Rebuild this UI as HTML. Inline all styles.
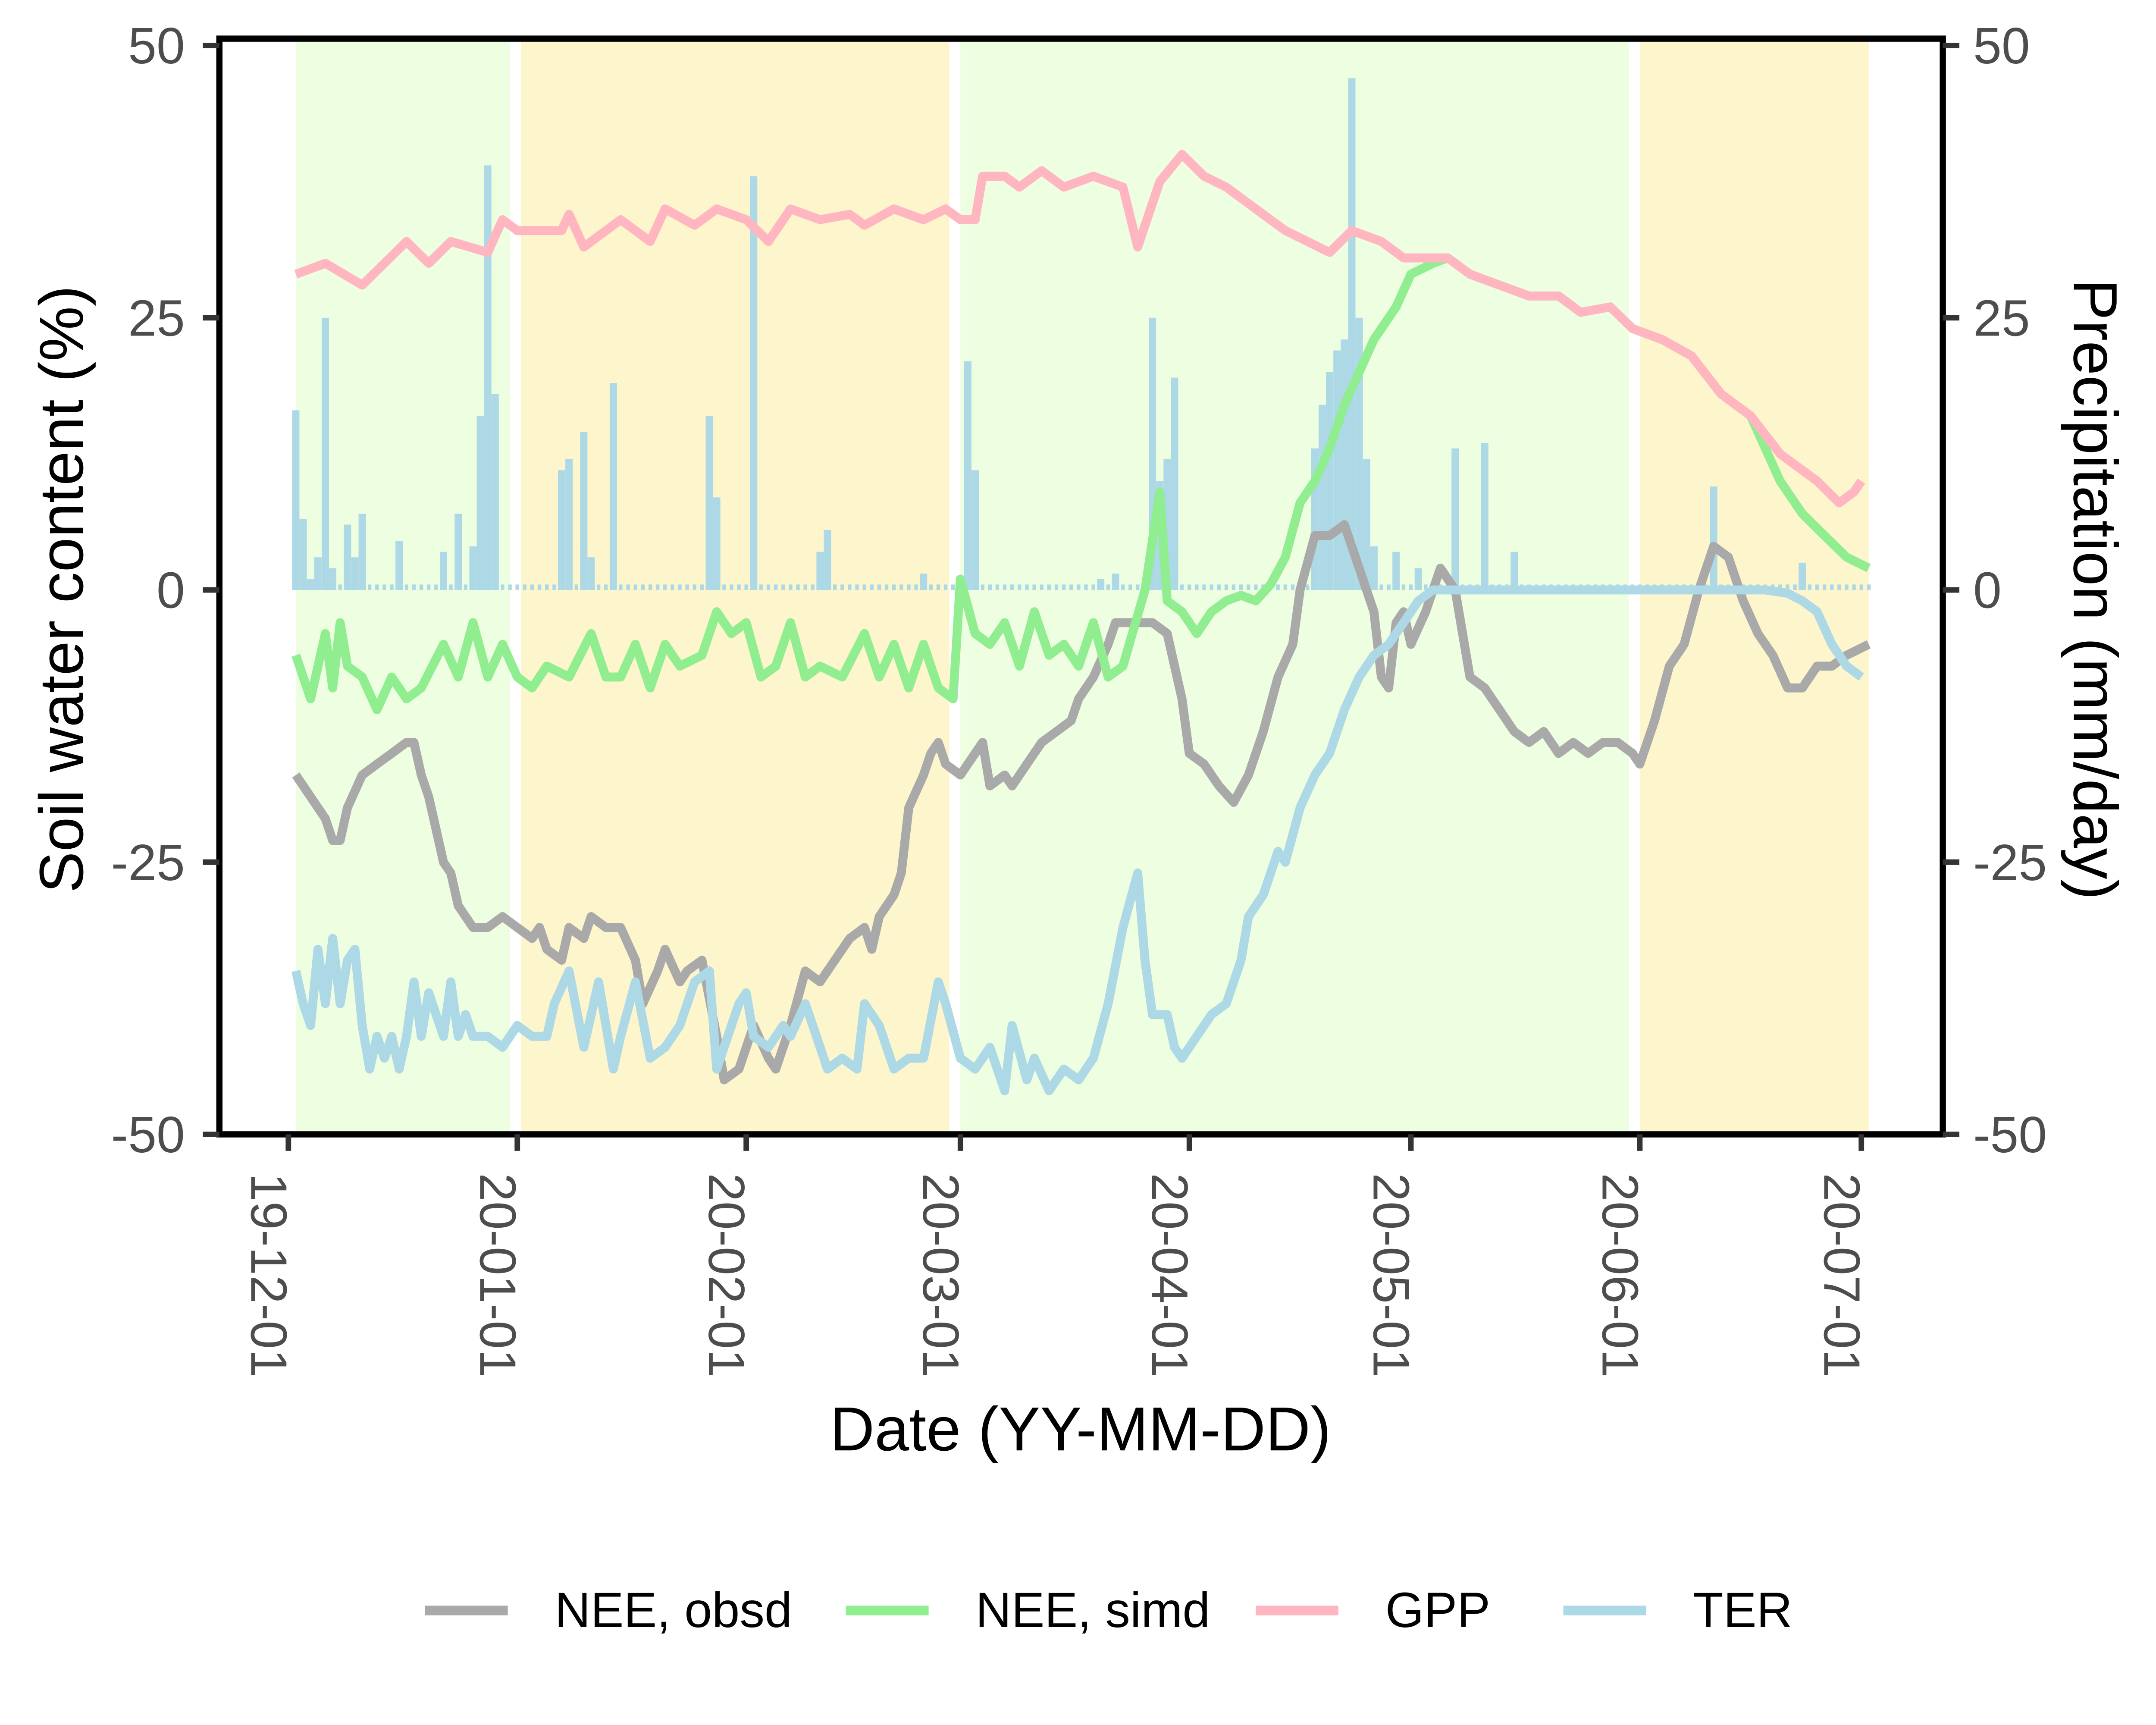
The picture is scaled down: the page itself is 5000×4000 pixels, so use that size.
<!DOCTYPE html>
<html><head><meta charset="utf-8"><style>
html,body{margin:0;padding:0;background:#fff}
svg{display:block}
text{font-family:"Liberation Sans",Arial,sans-serif}
</style></head><body>
<svg id="chart" xmlns="http://www.w3.org/2000/svg" width="5000" height="4000" viewBox="0 0 1562.5 1250">
<rect width="1562.5" height="1250" fill="#fff"/>
<g id="bg"></g>
<g id="bars"></g>
<g id="lines"></g>
<g id="axes"></g>
<text transform="translate(60,427) rotate(-90)" text-anchor="middle" font-size="45">Soil water content (%)</text>
<text transform="translate(1503,427) rotate(90)" text-anchor="middle" font-size="45">Precipitation (mm/day)</text>
<text x="783" y="1051" text-anchor="middle" font-size="45">Date (YY-MM-DD)</text>
<g id="legend"></g>
</svg>
<script>
const NS="http://www.w3.org/2000/svg";
// ---- data ----
const gppDays=[1,5,10,16,19,22,27,29,31,37,38,40,45,49,51,55,58,62,65,68,72,76,78,82,86,89,91,93,94,97,99,102,105,109,113,115,118,121,124,127,131,135,138,141,144,148,151,157,160,164,168,172,175,179,182,186,190,194,198,202,207,210,212,213];
const gppVals=[29,30,28,32,30,32,31,34,33,33,34.5,31.5,34,32,35,33.5,35,34,32,35,34,34.5,33.5,35,34,35,34,34,38,38,37,38.5,37,38,37,31.5,37.5,40,38,37,35,33,32,31,33,32,30.5,30.5,29,28,27,27,25.5,26,24,23,21.5,18,16,12.5,10,8,9,10];
const simDays=[1,3,5,6,7,8,10,12,14,16,18,21,23,25,27,29,31,33,35,38,41,43,45,47,49,51,53,56,58,60,62,64,66,68,70,72,75,78,80,82,84,86,88,90,91,93,95,97,99,101,103,105,107,109,111,113,116,118,119,121,123,125,127,129,131,133,135,137,139,141,143,145,147,150,152,155,157,160,164,168,172,175,179,182,186,190,194,198,202,205,208,211,214];
const simVals=[-6,-10,-4,-9,-3,-7,-8,-11,-8,-10,-9,-5,-8,-3,-8,-5,-8,-9,-7,-8,-4,-8,-8,-5,-9,-5,-7,-6,-2,-4,-3,-8,-7,-3,-8,-7,-8,-4,-8,-5,-9,-5,-9,-10,1,-4,-5,-3,-7,-2,-6,-5,-7,-3,-8,-7,0,9,-1,-2,-4,-2,-1,-0.5,-1,0.5,3,8,10,13,17,20,23,26,29,30,30.5,29,28,27,27,25.5,26,24,23,21.5,18,16,10,7,5,3,2];
const obsDays=[1,3,5,6,7,8,10,12,14,16,17,18,19,21,22,23,25,27,29,31,33,34,35,37,38,40,41,43,45,47,48,50,51,53,54,56,58,59,61,63,65,66,68,70,72,74,76,78,79,80,82,83,84,86,87,88,89,91,93,94,95,97,98,100,102,104,106,107,109,111,112,115,117,119,121,122,124,126,128,130,132,134,136,137,139,141,143,145,147,148,149,150,151,152,154,156,158,160,162,164,166,168,170,172,174,176,178,180,182,183,185,187,189,191,193,195,197,199,201,203,205,207,209,211,214];
const obsVals=[-17,-19,-21,-23,-23,-20,-17,-16,-15,-14,-14,-17,-19,-25,-26,-29,-31,-31,-30,-31,-32,-31,-33,-34,-31,-32,-30,-31,-31,-34,-38,-35,-33,-36,-35,-34,-41,-45,-44,-40,-43,-44,-40,-35,-36,-34,-32,-31,-33,-30,-28,-26,-20,-17,-15,-14,-16,-17,-15,-14,-18,-17,-18,-16,-14,-13,-12,-10,-8,-5,-3,-3,-3,-4,-10,-15,-16,-18,-19.5,-17,-13,-8,-5,0,5,5,6,2,-2,-8,-9,-3,-2,-5,-2,2,0,-8,-9,-11,-13,-14,-13,-15,-14,-15,-14,-14,-15,-16,-12,-7,-5,0,4,3,-1,-4,-6,-9,-9,-7,-7,-6,-5];
const terDays=[1,2,3,4,5,6,7,8,9,10,11,12,13,14,15,16,17,18,19,21,22,23,24,25,27,29,31,33,35,36,38,40,42,44,45,47,49,51,53,55,57,58,60,61,62,63,65,67,68,70,71,73,75,77,78,80,82,84,86,88,89,91,93,95,97,98,100,101,103,105,107,109,111,113,115,116,117,119,120,121,123,125,127,129,130,132,134,135,137,139,141,143,145,147,149,151,153,155,158,200,203,205,207,209,211,213];
const terVals=[-35,-38,-40,-33,-38,-32,-38,-34,-33,-40,-44,-41,-43,-41,-44,-41,-36,-41,-37,-41,-36,-41,-39,-41,-41,-42,-40,-41,-41,-38,-35,-42,-36,-44,-41,-36,-43,-42,-40,-36,-35,-44,-40,-38,-37,-41,-42,-40,-41,-38,-40,-44,-43,-44,-38,-40,-44,-43,-43,-36,-38,-43,-44,-42,-46,-40,-45,-43,-46,-44,-45,-43,-38,-31,-26,-34,-39,-39,-42,-43,-41,-39,-38,-34,-30,-28,-24,-25,-20,-17,-15,-11,-8,-6,-5,-3,-1,0,0,0,-0.3,-1,-2,-5,-7,-8];
const rainDays=[1,2,3,4,5,6,8,9,10,15,21,23,25,26,27,28,37,38,40,41,44,57,58,63,72,73,86,92,93,110,112,117,118,119,120,139,140,141,142,143,144,145,146,147,150,153,158,162,166,193,205];
const rainVals=[16.5,6.5,1,3,25,2,6,3,7,4.5,3.5,7,4,16,39,18,11,12,14.5,3,19,16,8.5,38,3.5,5.5,1.5,21,11,1,1.5,25,10,12,19.5,13,17,20,22,23,47,25,12,4,3.5,2,13,13.5,3.5,9.5,2.5];
const xTickLabels=["19-12-01","20-01-01","20-02-01","20-03-01","20-04-01","20-05-01","20-06-01","20-07-01"];
const xTickDays=[0,31,62,91,122,152,183,213];
const yTicks=[50,25,0,-25,-50];
const seasons=[[1,30,"#eefee0"],[31.5,89.5,"#fdf5cc"],[91,181.5,"#eefee0"],[183,214,"#fdf5cc"]];
// ---- scales ----
const L=159,R=1408,T=28,B=822;
const X=d=>209+d*5.352;
const Y=v=>427.5-v*7.89;
function mk(tag,attrs,parent){const e=document.createElementNS(NS,tag);for(const k in attrs)e.setAttribute(k,attrs[k]);parent.appendChild(e);return e;}
const bg=document.getElementById('bg');
seasons.forEach(s=>{const r=mk('rect',{x:X(s[0]),y:T,width:X(s[1])-X(s[0]),height:B-T,fill:s[2]},bg);

});
const bars=document.getElementById('bars');
for(let d=1;d<=214;d++){const r=mk('rect',{x:X(d)-1.3,y:Y(0.5),width:2.6,height:Y(0)-Y(0.5),fill:"#add8e6"},bars);

}
rainDays.forEach((d,i)=>{const v=rainVals[i];const r=mk('rect',{x:X(d)-2.65,y:Y(v),width:5.3,height:Y(0)-Y(v),fill:"#add8e6"},bars);

});
const lines=document.getElementById('lines');
function line(days,vals,color,name){const p=days.map((d,i)=>X(d).toFixed(1)+","+Y(vals[i]).toFixed(1)).join(" ");
const e=mk('polyline',{points:p,fill:"none",stroke:color,"stroke-width":6.5,"stroke-linejoin":"round"},lines);

}
line(obsDays,obsVals,"#a9a9a9","nee-obsd-line");
line(simDays,simVals,"#90ee90","nee-simd-line");
line(gppDays,gppVals,"#ffb6c1","gpp-line");
line(terDays,terVals,"#add8e6","ter-line");
const ax=document.getElementById('axes');
mk('rect',{x:L,y:T,width:R-L,height:B-T,fill:"none",stroke:"#000","stroke-width":4.5},ax);
yTicks.forEach(v=>{
mk('line',{x1:L-12,x2:L,y1:Y(v),y2:Y(v),stroke:"#333","stroke-width":4},ax);
mk('line',{x1:R,x2:R+12,y1:Y(v),y2:Y(v),stroke:"#333","stroke-width":4},ax);
const t=mk('text',{x:L-25,y:Y(v)+13,"text-anchor":"end","font-size":37,fill:"#4d4d4d"},ax);t.textContent=v;


const t2=mk('text',{x:R+22,y:Y(v)+13,"font-size":37,fill:"#4d4d4d"},ax);t2.textContent=v;

});
xTickDays.forEach((d,i)=>{
mk('line',{x1:X(d),x2:X(d),y1:B,y2:B+12,stroke:"#333","stroke-width":4},ax);
const t=mk('text',{transform:`translate(${X(d)-27},${B+28}) rotate(90)`,"font-size":37,fill:"#4d4d4d"},ax);t.textContent=xTickLabels[i];

});
const lg=document.getElementById('legend');
[["NEE, obsd","#a9a9a9",308],["NEE, simd","#90ee90",613],["GPP","#ffb6c1",910],["TER","#add8e6",1133]].forEach(e=>{
const l=mk('line',{x1:e[2],x2:e[2]+60,y1:1167,y2:1167,stroke:e[1],"stroke-width":7},lg);


const t=mk('text',{x:e[2]+94,y:1179,"font-size":36},lg);t.textContent=e[0];

});
</script>
</body></html>
